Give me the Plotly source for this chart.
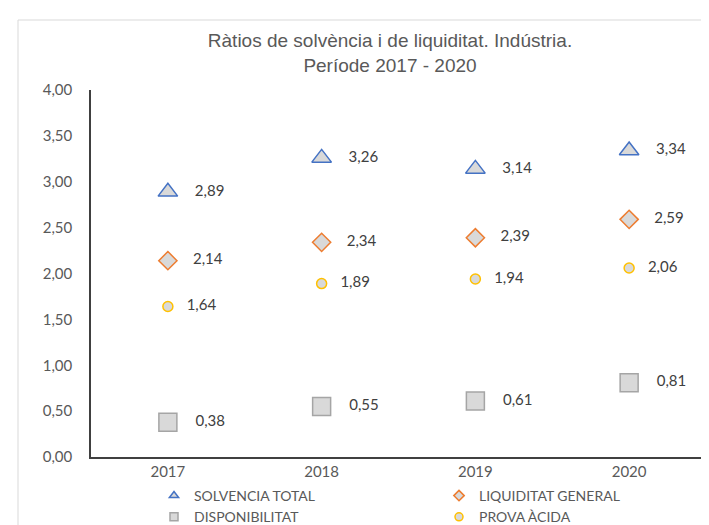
import plotly.graph_objects as go

years = ["2017", "2018", "2019", "2020"]
solvencia_total = [2.89, 3.26, 3.14, 3.34]
liquiditat_general = [2.14, 2.34, 2.39, 2.59]
disponibilitat = [0.38, 0.55, 0.61, 0.81]
prova_acida = [1.64, 1.89, 1.94, 2.06]

series_names = ["SOLVENCIA TOTAL", "LIQUIDITAT GENERAL", "DISPONIBILITAT", "PROVA ÀCIDA"]

W, H = 709, 525
L, R, T, B = 83, 11, 82, 76
pw = W - L - R
ph = H - T - B


def px_x(px):
    return (px - L) / pw


def px_y(py):
    return (H - B - py) / ph


FILL = "#d9d9d9"
TXT = "#404040"
FONT = "Lato, Open Sans, sans-serif"
LBL_FONT = dict(family=FONT, size=15, color=TXT)
NB = "\u00a0"

fig = go.Figure()
specs = [
    # name, values, symbol, size, colour, label pad, legend
    (series_names[0], solvencia_total, "triangle-up", 17, "#4472c4", 4, "legend"),
    (series_names[1], liquiditat_general, "diamond", 14, "#ed7d31", 4, "legend2"),
    (series_names[2], disponibilitat, "square", 18, "#a5a5a5", 4, "legend"),
    (series_names[3], prova_acida, "circle", 10, "#ffc000", 3, "legend2"),
]
for name, vals, sym, size, col, pad, lg in specs:
    fig.add_trace(go.Scatter(
        x=years, y=vals, name=name, mode="markers+text", showlegend=False,
        marker=dict(symbol=sym, size=size, color=FILL, line=dict(color=col, width=1.5)),
        texttemplate=NB * pad + "%{y:.2f}", textposition="middle right",
        textfont=LBL_FONT, cliponaxis=False, hoverinfo="skip",
    ))
# legend entries (small symbols, as in the reference legend)
for name, vals, sym, size, col, pad, lg in specs:
    fig.add_trace(go.Scatter(
        x=[None], y=[None], name=name, mode="markers", showlegend=True, legend=lg,
        marker=dict(symbol=sym, size=8, color=FILL, line=dict(color=col, width=1.5)),
    ))

legend_common = dict(
    orientation="v", yanchor="top", xanchor="left",
    font=dict(family=FONT, size=14, color="#595959"),
    bgcolor="rgba(0,0,0,0)", itemclick=False, itemdoubleclick=False,
    tracegroupgap=0,
)

fig.update_layout(
    width=W, height=H,
    margin=dict(l=L, r=R, t=T, b=B, autoexpand=False),
    paper_bgcolor="white", plot_bgcolor="white",
    separators=",.",
    title=dict(
        text="Ràtios de solvència i de liquiditat. Indústria.<br>Període 2017 - 2020",
        x=px_x(382), xref="paper", xanchor="center",
        y=1 - 39 / H, yref="container", yanchor="middle",
        font=dict(family="Liberation Sans, Arial, sans-serif", size=19, color="#595959"),
    ),
    xaxis=dict(
        type="category", range=[-0.5, 3.5], showgrid=False, zeroline=False,
        showline=True, linecolor="#404040", linewidth=1.5, ticks="",
        tickfont=dict(family=FONT, size=15, color="#595959"),
    ),
    yaxis=dict(
        range=[0, 4], dtick=0.5, tickformat=".2f", showgrid=False, zeroline=False,
        showline=True, linecolor="#404040", linewidth=1.5, ticks="",
        tickfont=dict(family=FONT, size=15, color="#595959"),
        ticklabelstandoff=14,
    ),
    legend=dict(x=px_x(146), y=px_y(472), **legend_common),
    legend2=dict(x=px_x(431), y=px_y(472), **legend_common),
    showlegend=True,
    shapes=[dict(
        type="rect", xref="paper", yref="paper",
        x0=px_x(10), x1=px_x(730), y0=px_y(545), y1=px_y(12),
        line=dict(color="#d9d9d9", width=1), fillcolor="rgba(0,0,0,0)", layer="below",
    )],
)

fig.write_html("out.html")
